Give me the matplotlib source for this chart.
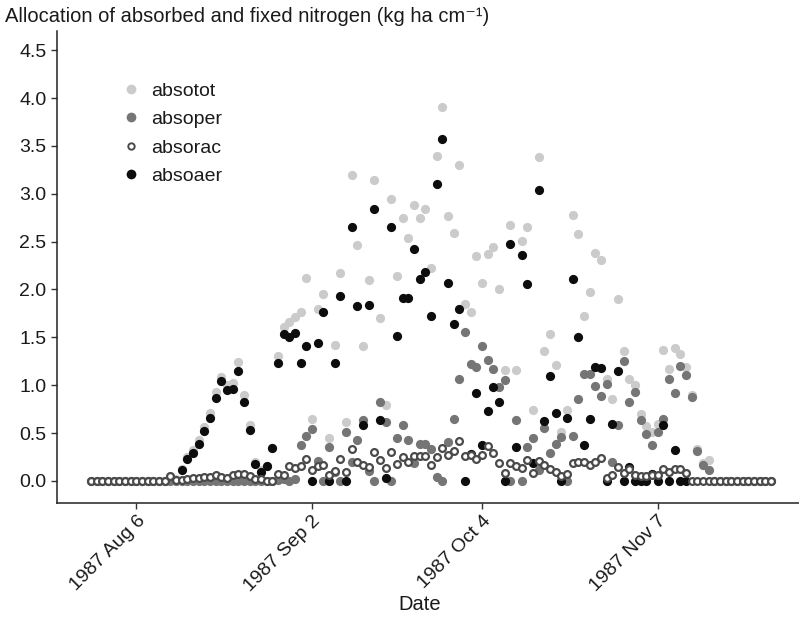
import numpy as np
import matplotlib
matplotlib.use("Agg")
import matplotlib.pyplot as plt
from matplotlib.lines import Line2D

plt.rcParams['font.family'] = ['Liberation Sans', 'DejaVu Sans']

nan = np.nan
# observation index (evenly spaced days on the axis)
n_obs = 121
tick_index = [8, 39, 69, 100]
tick_labels = ["1987 Aug 6", "1987 Sep 2", "1987 Oct 4", "1987 Nov 7"]

absotot = [0]*14 + [
    0.05, 0.02, 0.12, 0.25, 0.32, 0.43, 0.56, 0.71, 0.93, 1.09,
    1.00, 1.02, 1.24, 0.90, 0.58, 0.20, 0.11, 0.16, 0.34, 1.31,
    1.61, 1.66, 1.71, 1.77, 2.12, 0.65, 1.80, 1.95, 0.45, 1.42,
    2.17, 0.62, 3.20, 2.46, 1.41, 2.10, 3.14, 1.70, 0.79, 2.95,
    2.14, 2.75, 2.54, 2.88, 2.75, 2.84, 2.22, 3.39, 3.91, 2.77,
    2.59, 3.30, 1.85, 1.77, 2.35, 2.07, 2.37, 2.44, 2.00, 1.16,
    2.67, 1.16, 2.51, 2.65, 0.74, 3.38, 1.36, 1.53, 1.21, 0.51,
    0.74, 2.78, 2.58, 1.72, 1.97, 2.38, 2.31, 1.06, 0.86, 1.90,
    1.36, 1.06, 1.00, 0.70, 0.57, 0.51, 0.60, 1.37, 1.17, 1.39,
    1.33, 1.19, 0.90, 0.33, 0.19, 0.22] + [0]*11

absoper = [0]*33 + [
    0.01, 0.02, 0.00, 0.02, 0.38, 0.47, 0.54, 0.21, 0.00, 0.36,
    0.09, 0.00, 0.51, 0.20, 0.43, 0.64, 0.10, 0.00, 0.82, 0.62,
    0.00, 0.45, 0.58, 0.43, 0.19, 0.39, 0.39, 0.33, 0.04, 0.00,
    0.41, 0.65, 1.07, 1.56, 1.22, 1.19, 1.41, 1.26, 1.17, 0.98,
    1.05, 0.00, 0.64, 0.00, 0.36, 0.45, 0.11, 0.55, 0.29, 0.39,
    0.46, 0.00, 0.47, 0.86, 1.12, 1.12, 0.99, 0.89, 1.01, 0.20,
    0.58, 1.25, 0.82, 0.93, 0.64, 0.49, 0.38, 0.51, 0.65, 1.06,
    0.92, 1.20, 1.11, 0.88, 0.31, 0.17, 0.11] + [0]*11

absorac = [0]*14 + [
    0.05, 0.01, 0.01, 0.02, 0.03, 0.035, 0.04, 0.04, 0.06, 0.04,
    0.035, 0.06, 0.07, 0.07, 0.05, 0.02, 0.02, 0.00, 0.00, 0.07,
    0.06, 0.16, 0.14, 0.16, 0.23, 0.11, 0.16, 0.17, 0.06, 0.10,
    0.23, 0.09, 0.33, 0.20, 0.17, 0.15, 0.30, 0.22, 0.14, 0.30,
    0.18, 0.25, 0.20, 0.26, 0.26, 0.26, 0.17, 0.25, 0.34, 0.27,
    0.31, 0.42, 0.26, 0.27, 0.23, 0.27, 0.37, 0.29, 0.19, 0.08,
    0.19, 0.16, 0.14, 0.22, 0.08, 0.21, 0.17, 0.13, 0.09, 0.05,
    0.07, 0.19, 0.20, 0.20, 0.17, 0.20, 0.24, 0.03, 0.06, 0.15,
    0.08, 0.12, 0.06, 0.05, 0.05, 0.06, 0.06, 0.12, 0.09, 0.13,
    0.12, 0.08] + [0]*15

absoaer = [nan]*16 + [
    0.11, 0.23, 0.29, 0.39, 0.52, 0.66, 0.87, 1.04, 0.95, 0.96,
    1.15, 0.82, 0.53, 0.18, 0.09, 0.16, 0.34, 1.23, 1.53, 1.50,
    1.55, 1.23, 1.41, 0.00, 1.44, 1.77, 0.00, 1.23, 1.93, 0.00,
    2.65, 1.83, 0.58, 1.84, 2.84, 0.64, 0.03, 2.65, 1.51, 1.91,
    1.91, 2.42, 2.11, 2.18, 1.72, 3.10, 3.57, 2.07, 1.64, 1.80,
    0.00, 0.28, 0.92, 0.38, 0.73, 0.98, 0.82, 0.00, 2.48, 0.36,
    2.36, 2.06, 0.19, 3.04, 0.63, 1.10, 0.71, 0.00, 0.66, 2.11,
    1.50, 0.38, 0.65, 1.19, 1.18, 0.00, 0.59, 1.15, 0.00, 0.15,
    0.00, 0.00, 0.00, 0.07, 0.00, 0.58, 0.00, 0.32, 0.00, 0.00] + [nan]*15

x = np.arange(n_obs)

W, H = 799, 617
fig = plt.figure(figsize=(W/100, H/100), dpi=100)
ax_left, ax_right, ax_top, ax_bottom = 57, 805, 31, 503
ax = fig.add_axes([ax_left/W, 1 - ax_bottom/H, (ax_right-ax_left)/W, (ax_bottom-ax_top)/H])

ms = 44
c_tot, c_per, c_rac, c_aer = '#cbcbcb', '#757575', '#4a4a4a', '#0d0d0d'
ax.scatter(x, absotot, s=ms, color=c_tot, linewidths=0, zorder=2)
ax.scatter(x, absoper, s=ms, color=c_per, linewidths=0, zorder=3)
ax.scatter(x, absoaer, s=ms, color=c_aer, linewidths=0, zorder=4)
ax.scatter(x, absorac, s=24, facecolor='white', edgecolor=c_rac, linewidths=1.6, zorder=5)

ax.set_xlim(-6, 126)
ax.set_ylim(-0.23, 4.70)
ax.set_yticks(np.arange(0, 4.51, 0.5))
ax.set_yticklabels([f"{v:.1f}" for v in np.arange(0, 4.51, 0.5)])
ax.set_xticks(tick_index)
ax.set_xticklabels(tick_labels, rotation=45, ha='right', va='top', rotation_mode='anchor')

for s in ['top', 'right']:
    ax.spines[s].set_visible(False)
for s in ['left', 'bottom']:
    ax.spines[s].set_linewidth(1.1)
    ax.spines[s].set_color('#222222')
ax.tick_params(axis='both', length=4.5, width=1.0, color='#333333', labelsize=14, labelcolor='#1a1a1a')
ax.tick_params(axis='y', pad=3)
ax.tick_params(axis='x', pad=2)

fig.text(420/W, 1 - 604/H, "Date", fontsize=14.5, color='#1a1a1a', ha='center', va='center')
fig.text(5/W, 1 - 16/H, "Allocation of absorbed and fixed nitrogen (kg ha cm\u207b\u00b9)",
         fontsize=14.5, color='#1a1a1a', ha='left', va='center')

handles = [
    Line2D([], [], marker='o', linestyle='', markersize=7, markerfacecolor=c_tot, markeredgewidth=0),
    Line2D([], [], marker='o', linestyle='', markersize=7, markerfacecolor=c_per, markeredgewidth=0),
    Line2D([], [], marker='o', linestyle='', markersize=4.6, markerfacecolor='white', markeredgecolor=c_rac, markeredgewidth=1.4),
    Line2D([], [], marker='o', linestyle='', markersize=7, markerfacecolor=c_aer, markeredgewidth=0),
]
leg = ax.legend(handles, ["absotot", "absoper", "absorac", "absoaer"], loc='upper left',
                bbox_to_anchor=((120-ax_left)/(ax_right-ax_left), 1 - (82-ax_top)/(ax_bottom-ax_top)),
                frameon=False, fontsize=14, handlelength=1.1, handletextpad=0.5,
                labelspacing=0.56, borderpad=0, borderaxespad=0)
for t in leg.get_texts():
    t.set_color('#1a1a1a')

fig.savefig("out.png", dpi=100)
